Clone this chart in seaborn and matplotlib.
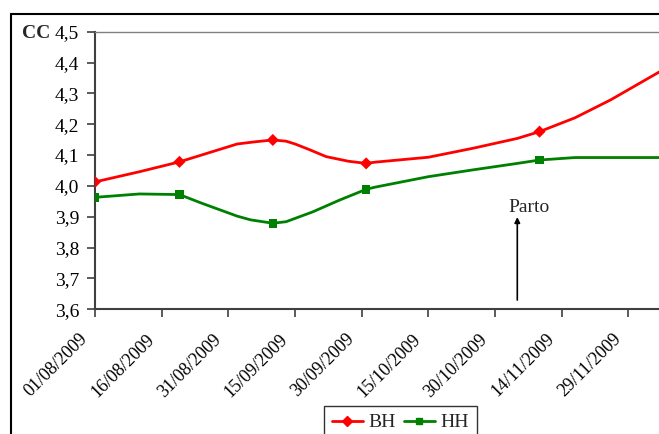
import matplotlib
matplotlib.use("Agg")
import matplotlib.pyplot as plt
import matplotlib.dates as mdates
from matplotlib.lines import Line2D
from matplotlib.patches import Rectangle
from matplotlib.ticker import FuncFormatter
from matplotlib.transforms import ScaledTranslation
import pandas as pd
import seaborn as sns

# Body-condition score (CC) traced along the season
bh_dates = ["2009-08-01", "2009-08-11", "2009-08-20", "2009-09-02", "2009-09-06",
            "2009-09-10", "2009-09-13", "2009-09-15", "2009-09-18", "2009-09-22",
            "2009-09-27", "2009-10-01", "2009-10-03", "2009-10-15", "2009-10-25",
            "2009-11-04", "2009-11-09", "2009-11-17", "2009-11-25", "2009-12-06",
            "2009-12-15"]
bh_values = [4.013, 4.046, 4.078, 4.136, 4.143,
             4.149, 4.145, 4.136, 4.119, 4.095,
             4.080, 4.073, 4.077, 4.093, 4.122,
             4.154, 4.176, 4.221, 4.279, 4.370,
             4.445]

hh_dates = ["2009-08-01", "2009-08-11", "2009-08-20", "2009-08-25", "2009-09-02",
            "2009-09-05", "2009-09-10", "2009-09-13", "2009-09-19", "2009-09-25",
            "2009-10-01", "2009-10-03", "2009-10-15", "2009-10-25", "2009-11-04",
            "2009-11-09", "2009-11-17", "2009-12-06", "2009-12-15"]
hh_values = [3.963, 3.974, 3.972, 3.944, 3.902,
             3.890, 3.879, 3.884, 3.916, 3.954,
             3.989, 3.996, 4.030, 4.052, 4.073,
             4.084, 4.092, 4.092, 4.092]

# Sampling dates (shown with markers)
sample_dates = ["2009-08-01", "2009-08-20", "2009-09-10", "2009-10-01", "2009-11-09"]
bh_samples = [4.013, 4.078, 4.149, 4.073, 4.176]
hh_samples = [3.963, 3.972, 3.879, 3.989, 4.084]

tick_dates = ["2009-08-01", "2009-08-16", "2009-08-31", "2009-09-15", "2009-09-30",
              "2009-10-15", "2009-10-30", "2009-11-14", "2009-11-29"]
y_ticks = [3.6, 3.7, 3.8, 3.9, 4.0, 4.1, 4.2, 4.3, 4.4, 4.5]

parto_date = "2009-11-04"
parto_text = "Parto"

series_names = ["BH", "HH"]
colors = {"BH": "#ff0000", "HH": "#008000"}
markers = {"BH": "D", "HH": "s"}

trace = pd.concat([
    pd.DataFrame({"fecha": pd.to_datetime(bh_dates), "CC": bh_values, "grupo": "BH"}),
    pd.DataFrame({"fecha": pd.to_datetime(hh_dates), "CC": hh_values, "grupo": "HH"}),
], ignore_index=True)
samples = pd.concat([
    pd.DataFrame({"fecha": pd.to_datetime(sample_dates), "CC": bh_samples, "grupo": "BH"}),
    pd.DataFrame({"fecha": pd.to_datetime(sample_dates), "CC": hh_samples, "grupo": "HH"}),
], ignore_index=True)

sns.set_style("white")
plt.rcParams["font.family"] = ["Liberation Serif", "DejaVu Serif"]
plt.rcParams["font.size"] = 14

fig = plt.figure(figsize=(6.59, 4.34), dpi=100)
ax = fig.add_axes([95 / 659, 124.7 / 434, 605 / 659, 277.6 / 434])

sns.lineplot(data=trace, x="fecha", y="CC", hue="grupo", palette=colors,
             estimator=None, sort=False, linewidth=2.0, legend=False, ax=ax)
sns.scatterplot(data=samples, x="fecha", y="CC", hue="grupo", style="grupo",
                palette=colors, markers=markers, s=38, edgecolor=None,
                linewidth=0, legend=False, ax=ax, zorder=3)

start = pd.Timestamp(tick_dates[0])
ax.set_xlim(start, start + pd.Timedelta(days=136.1))
ax.set_ylim(y_ticks[0], y_ticks[-1])
ax.set_xticks(pd.to_datetime(tick_dates))
ax.xaxis.set_major_formatter(mdates.DateFormatter("%d/%m/%Y"))
ax.set_yticks(y_ticks)
ax.yaxis.set_major_formatter(FuncFormatter(lambda v, p: f"{v:.1f}".replace(".", ",")))
ax.set_xlabel("")
ax.set_ylabel("")

ax.tick_params(axis="both", direction="out", length=6, width=1.2, color="#404040",
               labelcolor="black", bottom=True, left=True)
ax.tick_params(axis="y", pad=5.5, labelsize=14)
ax.tick_params(axis="x", pad=0, labelsize=13)
fig.canvas.draw()
shift = ScaledTranslation(-0.10, -0.19, fig.dpi_scale_trans)
for lbl in ax.get_xticklabels():
    lbl.set_rotation(45)
    lbl.set_ha("right")
    lbl.set_va("center")
    lbl.set_rotation_mode("anchor")
    lbl.set_transform(lbl.get_transform() + shift)

for side in ("left", "bottom"):
    ax.spines[side].set_color("#404040")
    ax.spines[side].set_linewidth(1.5)
ax.spines["top"].set_color("#808080")
ax.spines["top"].set_linewidth(1.0)
ax.spines["right"].set_color("#808080")
ax.spines["right"].set_linewidth(1.0)

# Calving arrow
pdate = pd.Timestamp(parto_date)
ax.annotate("", xy=(pdate, 3.899), xytext=(pdate, 3.63),
            arrowprops=dict(arrowstyle="-|>", color="black", lw=1.2,
                            mutation_scale=8, shrinkA=0, shrinkB=0))
ax.text(pdate - pd.Timedelta(days=2.1), 3.902, parto_text, ha="left", va="bottom",
        fontsize=14)

fig.text(22 / 659, 1 - 33 / 434, "CC", ha="left", va="center", fontsize=14,
         fontweight="bold")

# Chart-area frame
fig.patches.append(Rectangle((11 / 659, -0.1), 1.2, 1 - 14 / 434 + 0.1,
                             transform=fig.transFigure, fill=False,
                             edgecolor="black", linewidth=1.5, zorder=0))

handles = [Line2D([0], [0], color=colors[n], marker=markers[n], markersize=5,
                  linewidth=2.0) for n in series_names]
leg = fig.legend(handles, series_names, loc="upper left",
                 bbox_to_anchor=(324 / 659, 1 - 406 / 434), ncol=2,
                 frameon=True, fancybox=False, borderaxespad=0, fontsize=14,
                 handlelength=1.6, columnspacing=0.4, handletextpad=0.3,
                 borderpad=0.4)
leg.get_frame().set_edgecolor("black")
leg.get_frame().set_linewidth(1.0)

fig.savefig("out.png", dpi=100)
